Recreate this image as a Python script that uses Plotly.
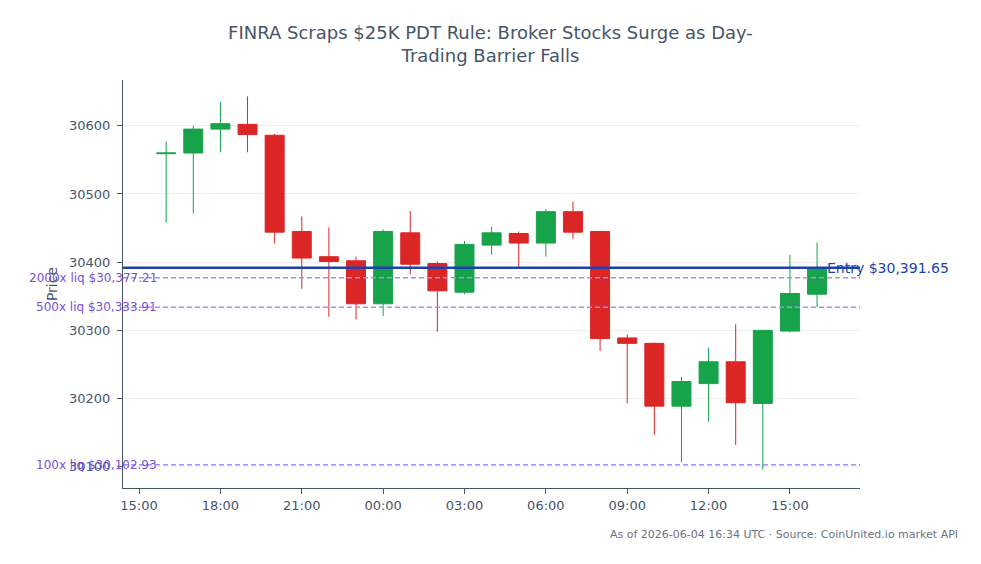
import plotly.graph_objects as go
import pandas as pd

times = pd.date_range("2026-06-03 16:00", "2026-06-04 16:00", freq="h")
opens = [30559, 30560, 30595, 30602, 30586, 30445, 30408, 30402, 30339, 30443,
         30398, 30356, 30425, 30442, 30428, 30474, 30445, 30289, 30281, 30189,
         30222, 30254, 30193, 30299, 30353]
highs = [30577, 30600, 30635, 30643, 30588, 30467, 30451, 30408, 30448, 30475,
         30401, 30431, 30452, 30445, 30478, 30489, 30446, 30294, 30282, 30232,
         30275, 30309, 30301, 30411, 30429]
lows = [30458, 30471, 30561, 30561, 30427, 30361, 30320, 30316, 30321, 30382,
        30298, 30353, 30411, 30393, 30408, 30434, 30270, 30193, 30147, 30107,
        30166, 30132, 30096, 30297, 30334]
closes = [30560, 30595, 30603, 30587, 30444, 30406, 30401, 30339, 30445, 30397,
          30358, 30426, 30443, 30428, 30474, 30444, 30288, 30281, 30189, 30225,
          30254, 30194, 30300, 30354, 30391.65]

entry_price = 30391.65
liq_levels = [30377.21, 30333.91, 30102.93]
liq_labels = ["2000x liq $30,377.21", "500x liq $30,333.91", "100x liq $30,102.93"]

title_text = "FINRA Scraps $25K PDT Rule: Broker Stocks Surge as Day-<br>Trading Barrier Falls"
footer_text = "As of 2026-06-04 16:34 UTC · Source: CoinUnited.io market API"

FONT = "DejaVu Sans"
SLATE = "#475569"

fig = go.Figure()
fig.add_trace(go.Candlestick(
    x=times, open=opens, high=highs, low=lows, close=closes,
    increasing=dict(line=dict(color="#16a34a", width=1), fillcolor="#16a34a"),
    decreasing=dict(line=dict(color="#dc2626", width=1), fillcolor="#dc2626"),
    showlegend=False, hoverinfo="x+y",
))

fig.add_hline(y=entry_price, line=dict(color="#1e40af", width=2.5))
fig.add_annotation(x=times[-1], y=entry_price, xref="x", yref="y", text="Entry $30,391.65",
                   showarrow=False, xanchor="left", yanchor="middle", xshift=8,
                   font=dict(family=FONT, size=14, color="#1e40af"))

for lv, lb in zip(liq_levels, liq_labels):
    fig.add_hline(y=lv, line=dict(color="#a78bfa", width=1.5, dash="5px,3px"))
    fig.add_annotation(x=times[0], y=lv, xref="x", yref="y", text=lb,
                       showarrow=False, xanchor="right", yanchor="middle", xshift=-7,
                       font=dict(family=FONT, size=12, color="#7c4fd8"))

fig.add_annotation(x=1.136, y=-0.113, xref="paper", yref="paper", text=footer_text,
                   showarrow=False, xanchor="right", yanchor="middle",
                   font=dict(family=FONT, size=11, color="#6b7280"))

fig.update_layout(
    width=981, height=564,
    margin=dict(l=123, r=121, t=80, b=76),
    paper_bgcolor="white", plot_bgcolor="white",
    boxgap=0.3, boxgroupgap=0,
    font=dict(family=FONT, size=13, color=SLATE),
    title=dict(text=title_text, x=0.5, xanchor="center", y=0.931, yanchor="middle",
               font=dict(family=FONT, size=18, color=SLATE)),
    xaxis=dict(
        range=[pd.Timestamp("2026-06-03 14:24:30"), pd.Timestamp("2026-06-04 17:35")],
        rangeslider=dict(visible=False),
        showgrid=False, showline=True, linecolor=SLATE, linewidth=1,
        ticks="outside", tickcolor=SLATE, ticklen=5,
        tickformat="%H:%M", dtick=3 * 3600 * 1000,
        tick0=pd.Timestamp("2026-06-03 15:00"),
        tickfont=dict(family=FONT, size=13, color=SLATE),
    ),
    yaxis=dict(
        range=[30069, 30667],
        title=dict(text="Price", standoff=8, font=dict(family=FONT, size=14, color=SLATE)),
        showgrid=True, gridcolor="#eeeeee", zeroline=False,
        showline=True, linecolor=SLATE, linewidth=1,
        ticks="outside", tickcolor=SLATE, ticklen=5, ticklabelstandoff=4,
        tickformat="d", dtick=100,
        tickfont=dict(family=FONT, size=13, color=SLATE),
    ),
)

fig.write_html("out.html")
